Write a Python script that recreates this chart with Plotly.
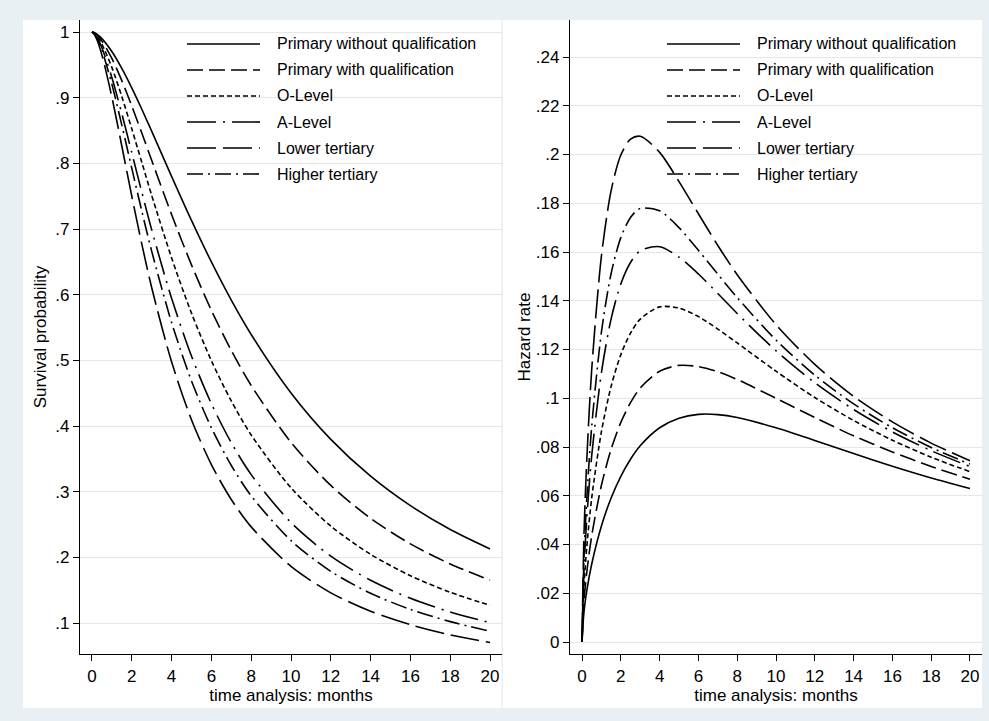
import plotly.graph_objects as go

W, H = 989, 721

# ---------------- data ----------------
months = [0, 0.1, 0.25, 0.5, 1, 1.5, 2, 2.5, 3, 4, 5, 6, 7, 8, 10, 12, 14, 16, 18, 20]

groups = ["Primary without qualification", "Primary with qualification", "O-Level",
          "A-Level", "Lower tertiary", "Higher tertiary"]

surv_primary_without = [1.0, 0.9992, 0.9967, 0.9900, 0.9703, 0.9446, 0.9150, 0.8828, 0.8491, 0.7802,
                        0.7131, 0.6499, 0.5918, 0.5394, 0.4504, 0.3797, 0.3236, 0.2787, 0.2424, 0.2128]
surv_primary_with = [1.0, 0.9990, 0.9955, 0.9864, 0.9598, 0.9259, 0.8874, 0.8465, 0.8047, 0.7222,
                     0.6454, 0.5761, 0.5150, 0.4617, 0.3751, 0.3095, 0.2594, 0.2205, 0.1899, 0.1653]
surv_o_level = [1.0, 0.9986, 0.9938, 0.9815, 0.9461, 0.9017, 0.8527, 0.8020, 0.7515, 0.6562,
                0.5719, 0.4995, 0.4381, 0.3864, 0.3059, 0.2476, 0.2046, 0.1720, 0.1468, 0.1269]
surv_a_level = [1.0, 0.9981, 0.9920, 0.9761, 0.9309, 0.8757, 0.8164, 0.7568, 0.6991, 0.5946,
                0.5065, 0.4340, 0.3746, 0.3260, 0.2529, 0.2018, 0.1650, 0.1376, 0.1168, 0.1004]
surv_lower_tertiary = [1.0, 0.9973, 0.9882, 0.9650, 0.9011, 0.8264, 0.7503, 0.6777, 0.6109, 0.4978,
                       0.4096, 0.3413, 0.2881, 0.2464, 0.1862, 0.1459, 0.1178, 0.0974, 0.0820, 0.0702]
surv_higher_tertiary = [1.0, 0.9978, 0.9907, 0.9723, 0.9206, 0.8583, 0.7927, 0.7279, 0.6664, 0.5577,
                        0.4688, 0.3973, 0.3399, 0.2937, 0.2255, 0.1786, 0.1452, 0.1207, 0.1021, 0.0876]

haz_primary_without = [0.0, 0.0123, 0.0213, 0.0320, 0.0476, 0.0591, 0.0680, 0.0750, 0.0805, 0.0879,
                       0.0918, 0.0934, 0.0933, 0.0921, 0.0879, 0.0827, 0.0773, 0.0721, 0.0673, 0.0630]
haz_primary_with = [0.0, 0.0168, 0.0290, 0.0436, 0.0643, 0.0791, 0.0901, 0.0982, 0.1042, 0.1111,
                    0.1135, 0.1130, 0.1109, 0.1077, 0.1000, 0.0921, 0.0846, 0.0780, 0.0720, 0.0668]
haz_o_level = [0.0, 0.0229, 0.0394, 0.0591, 0.0863, 0.1049, 0.1179, 0.1267, 0.1325, 0.1375,
               0.1370, 0.1335, 0.1284, 0.1227, 0.1111, 0.1003, 0.0909, 0.0828, 0.0758, 0.0699]
haz_a_level = [0.0, 0.0298, 0.0513, 0.0765, 0.1105, 0.1326, 0.1469, 0.1557, 0.1605, 0.1622,
               0.1579, 0.1510, 0.1430, 0.1348, 0.1195, 0.1064, 0.0954, 0.0862, 0.0785, 0.0720]
haz_lower_tertiary = [0.0, 0.0440, 0.0755, 0.1119, 0.1583, 0.1852, 0.1998, 0.2063, 0.2075, 0.2009,
                      0.1889, 0.1757, 0.1627, 0.1507, 0.1302, 0.1139, 0.1008, 0.0903, 0.0816, 0.0744]
haz_higher_tertiary = [0.0, 0.0346, 0.0595, 0.0886, 0.1271, 0.1512, 0.1659, 0.1742, 0.1779, 0.1769,
                       0.1700, 0.1607, 0.1509, 0.1413, 0.1239, 0.1095, 0.0977, 0.0879, 0.0798, 0.0730]

x_ticks = [0, 2, 4, 6, 8, 10, 12, 14, 16, 18, 20]
x_tick_labels = ["0", "2", "4", "6", "8", "10", "12", "14", "16", "18", "20"]
surv_ticks = [1, 0.9, 0.8, 0.7, 0.6, 0.5, 0.4, 0.3, 0.2, 0.1]
surv_tick_labels = ["1", ".9", ".8", ".7", ".6", ".5", ".4", ".3", ".2", ".1"]
haz_ticks = [0, 0.02, 0.04, 0.06, 0.08, 0.1, 0.12, 0.14, 0.16, 0.18, 0.2, 0.22, 0.24]
haz_tick_labels = ["0", ".02", ".04", ".06", ".08", ".1", ".12", ".14", ".16", ".18", ".2", ".22", ".24"]

# ---------------- styling ----------------
surv_series = [surv_primary_without, surv_primary_with, surv_o_level,
               surv_a_level, surv_lower_tertiary, surv_higher_tertiary]
haz_series = [haz_primary_without, haz_primary_with, haz_o_level,
              haz_a_level, haz_lower_tertiary, haz_higher_tertiary]
dashes = ["solid", "16px,6px", "5px,3px", "29px,7px,2px,7px", "29px,7px", "16px,5px,2px,5px"]
LW = 1.6
FONT = "Liberation Sans, Arial, Helvetica, sans-serif"
BG = "#e9f0f3"


def px(x):
    return x / W


def py(y):
    return 1 - y / H


fig = go.Figure()
for name, ys, d in zip(groups, surv_series, dashes):
    fig.add_trace(go.Scatter(x=months, y=ys, mode="lines", name=name, showlegend=False,
                             line=dict(color="black", width=LW, dash=d, shape="spline", smoothing=0.8),
                             xaxis="x", yaxis="y"))
for name, ys, d in zip(groups, haz_series, dashes):
    fig.add_trace(go.Scatter(x=months, y=ys, mode="lines", name=name, showlegend=False,
                             line=dict(color="black", width=LW, dash=d, shape="spline", smoothing=0.8),
                             xaxis="x2", yaxis="y2"))

shapes = [
    dict(type="rect", xref="paper", yref="paper", x0=px(23), x1=px(501.5), y0=py(708), y1=py(20),
         fillcolor="white", line=dict(width=0), layer="below"),
    dict(type="rect", xref="paper", yref="paper", x0=px(503), x1=px(982), y0=py(708), y1=py(20),
         fillcolor="white", line=dict(width=0), layer="below"),
]
annotations = []
# legends (one per panel)
for left_line, left_text in [(187, 275), (667, 755)]:
    for i, (name, d) in enumerate(zip(groups, dashes)):
        yy = 44 + 26 * i
        shapes.append(dict(type="line", xref="paper", yref="paper", x0=px(left_line), x1=px(left_line + 73),
                           y0=py(yy), y1=py(yy), line=dict(color="black", width=LW, dash=d)))
        annotations.append(dict(xref="paper", yref="paper", x=px(left_text), y=py(yy), text=name,
                                showarrow=False, xanchor="left", yanchor="middle",
                                font=dict(family=FONT, size=16, color="black")))

axis_common = dict(showline=True, linecolor="black", linewidth=1.3, ticks="outside", ticklen=6,
                   tickwidth=1.3, tickcolor="black", tickfont=dict(family=FONT, size=17, color="black"),
                   zeroline=False)

fig.update_layout(
    width=W, height=H, margin=dict(l=0, r=0, t=0, b=0),
    paper_bgcolor=BG, plot_bgcolor="rgba(0,0,0,0)",
    showlegend=False,
    font=dict(family=FONT, color="black"),
    shapes=shapes, annotations=annotations,
    xaxis=dict(domain=[px(80), px(502)], range=[-0.6, 20.6], tickvals=x_ticks, ticktext=x_tick_labels,
               showgrid=False, anchor="y",
               title=dict(text="time analysis: months", font=dict(family=FONT, size=17), standoff=2),
               **axis_common),
    yaxis=dict(domain=[py(654), py(20)], range=[0.0528, 1.0183], tickvals=surv_ticks, ticktext=surv_tick_labels,
               showgrid=True, gridcolor="#e6e6e6", gridwidth=1.3, anchor="x",
               title=dict(text="Survival probability", font=dict(family=FONT, size=17), standoff=4),
               **axis_common),
    xaxis2=dict(domain=[px(570), px(982)], range=[-0.62, 20.62], tickvals=x_ticks, ticktext=x_tick_labels,
                showgrid=False, anchor="y2",
                title=dict(text="time analysis: months", font=dict(family=FONT, size=17), standoff=2),
                **axis_common),
    yaxis2=dict(domain=[py(654), py(20)], range=[-0.00492, 0.2552], tickvals=haz_ticks, ticktext=haz_tick_labels,
                showgrid=True, gridcolor="#e6e6e6", gridwidth=1.3, anchor="x2",
                title=dict(text="Hazard rate", font=dict(family=FONT, size=17), standoff=0),
                **axis_common),
)

fig.write_html("out.html", config={"displayModeBar": False},
               post_script="document.body.style.margin='0';document.body.style.overflow='hidden';")
